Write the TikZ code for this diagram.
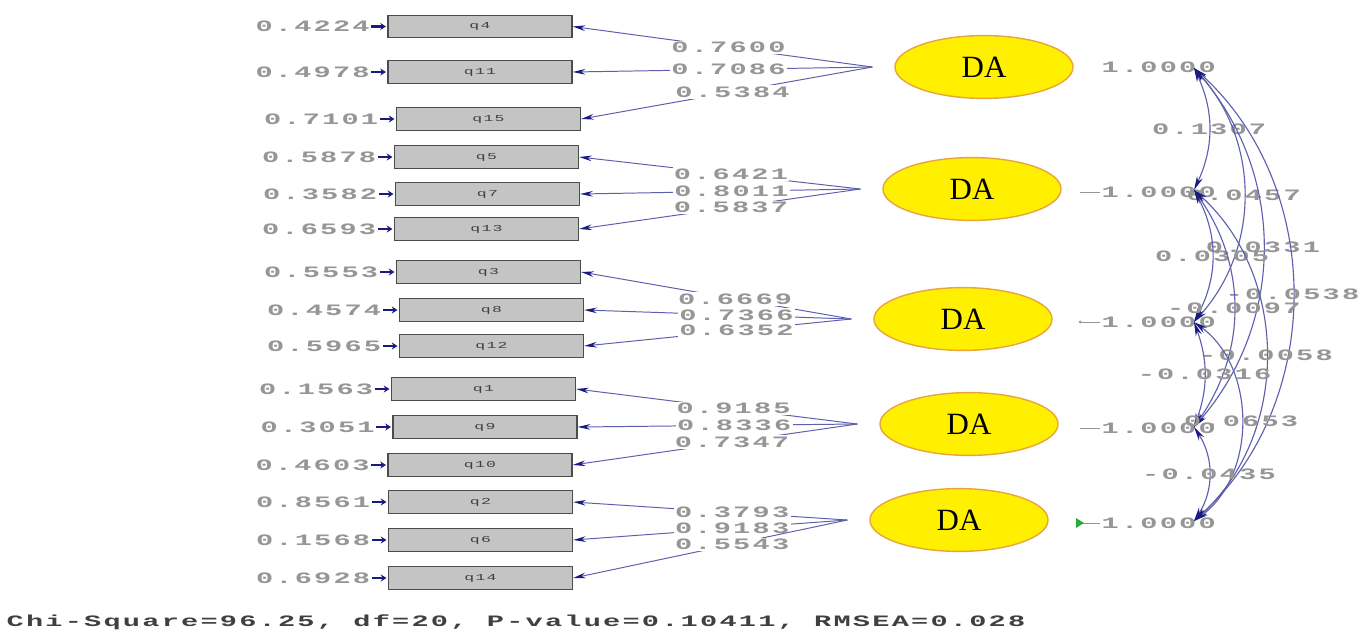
\documentclass[tikz,border=0pt]{standalone}
\usepackage{fontspec}
\setmainfont{Liberation Serif}
\newfontfamily\lismono[FakeStretch=1.8,LetterSpace=14]{Liberation Mono}
\usetikzlibrary{positioning,arrows.meta,shapes.geometric}

\definecolor{pathblue}{RGB}{95,95,175}
\definecolor{tipnavy}{RGB}{26,26,128}
\definecolor{numgray}{RGB}{150,150,150}
\definecolor{boxgray}{RGB}{196,196,196}
\definecolor{latyellow}{RGB}{255,240,0}
\definecolor{latorange}{RGB}{232,165,60}
\definecolor{markgreen}{RGB}{40,170,60}

\begin{document}
\begin{tikzpicture}[
    x=0.025cm, y=0.025cm,
    %% ── node styles ──────────────────────────────────────────
    obs/.style    = {draw=black!70, line width=0.9pt, fill=boxgray,
                     minimum width=4.6cm, minimum height=0.56cm,
                     inner sep=0pt, font=\lismono\fontsize{6.5}{8}\selectfont,
                     text=black!75},
    lat/.style    = {ellipse, draw=latorange, line width=1pt, fill=latyellow,
                     minimum width=4.45cm, minimum height=1.57cm,
                     font=\fontsize{22}{24}\selectfont},
    num/.style    = {font=\lismono\bfseries\fontsize{11.3}{12}\selectfont,
                     text=numgray, inner sep=1pt},
    loadlab/.style = {num, fill=white},
    %% ── connector styles ─────────────────────────────────────
    errarr/.style = {-{Stealth[length=4pt,width=5pt]}, line width=1.6pt,
                     tipnavy, shorten >=1pt},
    load/.style   = {-{Stealth[length=9pt,width=4pt,tipnavy]}, pathblue,
                     line width=0.7pt},
    cov/.style    = {{Stealth[length=10pt,width=4.5pt,tipnavy]}-{Stealth[length=10pt,width=4.5pt,tipnavy]},
                     pathblue, line width=0.8pt},
    varline/.style = {numgray, line width=0.6pt}
]
\useasboundingbox[fill=white] (0,0) rectangle (1361,-641);

%% ── Indicators with error variances ─────────────────────────
\foreach \q/\x/\y/\err in {4/480/26.5/0.4224, 11/480/72/0.4978,
    15/488.5/119/0.7101, 5/486.5/157/0.5878, 7/487.5/194/0.3582,
    13/486.5/229/0.6593, 3/488.5/272/0.5553, 8/491.5/310/0.4574,
    12/491.5/346/0.5965, 1/483.5/389/0.1563, 9/485/427/0.3051,
    10/480/465/0.4603, 2/480.5/502/0.8561, 6/480.5/540/0.1568,
    14/480.5/578/0.6928}
{
  \node[obs] (q\q) at (\x,-\y) {q\q};
  \node[num, left=0.4cm of q\q] (e\q) {\err};
  \draw[errarr] (e\q) -- (q\q);
}

%% ── Latent factors ──────────────────────────────────────────
\foreach \i/\x/\y in {1/984/67, 2/972/189, 3/963/319, 4/969/424, 5/959/520}
{
  \node[lat] (f\i) at (\x,-\y) {DA};
  \coordinate (a\i) at ([xshift=-0.55cm]f\i.west);
}

%% ── Factor loadings ─────────────────────────────────────────
\foreach \f/\q/\val/\p in {1/4/0.7600/.48, 1/11/0.7086/.48, 1/15/0.5384/.48,
    2/5/0.6421/.46, 2/7/0.8011/.46, 2/13/0.5837/.46,
    3/3/0.6669/.43, 3/8/0.7366/.43, 3/12/0.6352/.43,
    4/1/0.9185/.44, 4/9/0.8336/.44, 4/10/0.7347/.44,
    5/2/0.3793/.42, 5/6/0.9183/.42, 5/14/0.5543/.42}
  \draw[load] (a\f) -- node[loadlab, pos=\p] {\val} (q\q.east);

%% ── Factor variances ────────────────────────────────────────
\foreach \i/\y/\ty in {1/67/68, 2/192/190, 3/322/322, 4/428/427, 5/523/521}
{
  \node[num, anchor=west] (v\i) at (1100,-\y) {1.0000};
  \coordinate (t\i) at (1080,-\y);
  \coordinate (c\i) at (1194,-\ty);
}
\draw[varline] (t2) -- (v2.west);
\draw[varline] (t3) -- (v3.west);
\draw[varline] (t4) -- (v4.west);
\draw[varline] (t5) -- (v5.west);
\fill[numgray] (t3) circle (1.5);
\fill[markgreen] (t5) ++(-4,5) -- ++(8,-5) -- ++(-8,-5) -- cycle;

%% ── Factor correlations ─────────────────────────────────────
\foreach \i/\j/\val/\b in {1/2/0.1307/25, 1/3/0.0457/42, 1/4/0.0331/41,
    1/5/-0.0538/48, 2/3/0.0305/28, 2/4/-0.0097/35, 2/5/-0.0058/48,
    3/4/-0.0316/20, 3/5/0.0653/54, 4/5/-0.0435/33}
  \draw[cov] (c\i) to[bend left=\b] node[num] {\val} (c\j);

%% ── Fit statistics ──────────────────────────────────────────
\node[num, anchor=west, text=black!75]
    (fit) at (5,-622) {Chi-Square=96.25, df=20, P-value=0.10411, RMSEA=0.028};

\end{tikzpicture}
\end{document}
